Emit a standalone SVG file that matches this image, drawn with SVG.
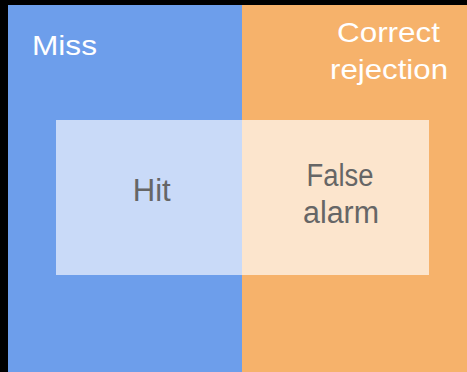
<svg xmlns="http://www.w3.org/2000/svg" width="467" height="372" viewBox="0 0 467 372">
<style>
.lbl{font-family:"Liberation Sans",Arial,sans-serif}
.w{fill:#ffffff;font-size:28px}
.g{fill:#666666;font-size:31px}
</style>
<rect x="0" y="0" width="467" height="372" fill="#000000"/>
<g id="miss">
<rect x="8" y="5" width="234" height="367" fill="#6d9eeb"/>
<text class="lbl w" x="32" y="54.5" textLength="65" lengthAdjust="spacingAndGlyphs">Miss</text>
</g>
<g id="correct-rejection">
<rect x="242" y="5" width="225" height="367" fill="#f6b26b"/>
<text class="lbl w" text-anchor="middle"><tspan x="388.5" y="42" textLength="103" lengthAdjust="spacingAndGlyphs">Correct</tspan><tspan x="389" y="78.5" textLength="118" lengthAdjust="spacingAndGlyphs">rejection</tspan></text>
</g>
<g id="hit">
<rect x="56" y="120" width="186" height="155" fill="#c9daf8"/>
<text class="lbl g" x="151.7" y="201" text-anchor="middle" textLength="38" lengthAdjust="spacingAndGlyphs">Hit</text>
</g>
<g id="false-alarm">
<rect x="242" y="120" width="187" height="155" fill="#fce5cd"/>
<text class="lbl g" text-anchor="middle"><tspan x="340" y="186" textLength="67" lengthAdjust="spacingAndGlyphs">False</tspan><tspan x="341" y="222.7" textLength="76" lengthAdjust="spacingAndGlyphs">alarm</tspan></text>
</g>
<g id="connectors"/>
</svg>
